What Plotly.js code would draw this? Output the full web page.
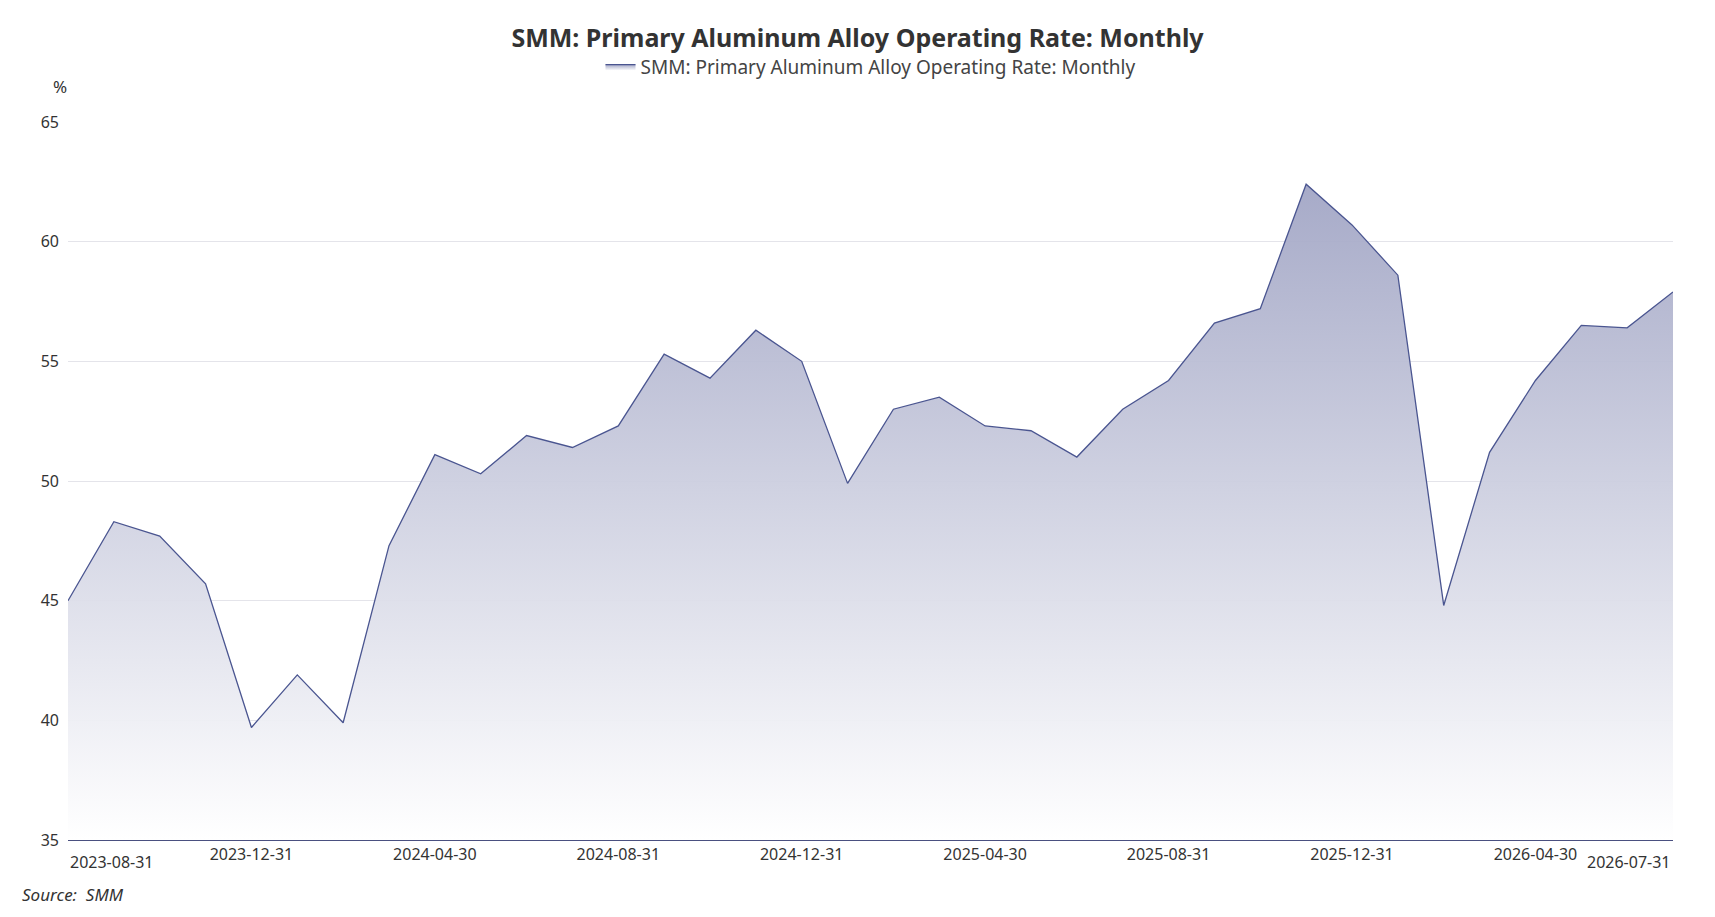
<!DOCTYPE html>
<html>
<head>
<meta charset="utf-8">
<script src="https://cdn.plot.ly/plotly-3.0.1.min.js"></script>
<style>html,body{margin:0;background:#fff;}#chart{width:1715px;height:917px;}</style>
</head>
<body>
<div id="chart"></div>
<script>
const seriesName = 'SMM: Primary Aluminum Alloy Operating Rate: Monthly';
const months = [
  '2023-08-31', '2023-09-30', '2023-10-31', '2023-11-30', '2023-12-31',
  '2024-01-31', '2024-02-29', '2024-03-31', '2024-04-30', '2024-05-31', '2024-06-30',
  '2024-07-31', '2024-08-31', '2024-09-30', '2024-10-31', '2024-11-30', '2024-12-31',
  '2025-01-31', '2025-02-28', '2025-03-31', '2025-04-30', '2025-05-31', '2025-06-30',
  '2025-07-31', '2025-08-31', '2025-09-30', '2025-10-31', '2025-11-30', '2025-12-31',
  '2026-01-31', '2026-02-28', '2026-03-31', '2026-04-30', '2026-05-31', '2026-06-30',
  '2026-07-31',
];
const rates = [
  45.0, 48.3, 47.7, 45.7, 39.7,
  41.9, 39.9, 47.3, 51.1, 50.3, 51.9,
  51.4, 52.3, 55.3, 54.3, 56.3, 55.0,
  49.9, 53.0, 53.5, 52.3, 52.1, 51.0,
  53.0, 54.2, 56.6, 57.2, 62.4, 60.7,
  58.6, 44.8, 51.2, 54.2, 56.5, 56.4,
  57.9,
];
// inner ticks go on the axis; the two end labels are anchored inward
const tickLabels = [
  '2023-12-31', '2024-04-30', '2024-08-31', '2024-12-31',
  '2025-04-30', '2025-08-31', '2025-12-31', '2026-04-30',
];
const firstTick = months[0];
const lastTick = months[months.length - 1];

const font = 'Noto Sans, Open Sans, sans-serif';
const trace = {
  x: months,
  y: rates,
  name: seriesName,
  type: 'scatter',
  mode: 'lines',
  line: { color: '#4a5590', width: 1.3 },
  fill: 'tozeroy',
  fillgradient: {
    type: 'vertical',
    start: 35,
    stop: 63,
    colorscale: [[0, 'rgba(255,255,255,0.95)'], [1, 'rgba(160,164,196,0.95)']],
  },
  hoverinfo: 'x+y',
};

const tickFont = { family: font, size: 16, color: '#333' };
const layout = {
  width: 1715,
  height: 917,
  paper_bgcolor: '#fff',
  plot_bgcolor: '#fff',
  margin: { l: 68, r: 42, t: 122, b: 77 },
  title: {
    text: '<b>' + seriesName + '</b>',
    x: 0.5, y: 0.968, yanchor: 'top',
    font: { family: font, size: 25, color: '#333' },
  },
  showlegend: true,
  legend: {
    orientation: 'h', x: 0.5, xanchor: 'center', y: 1.077, yanchor: 'middle',
    font: { family: font, size: 19, color: '#444' },
  },
  xaxis: {
    type: 'category',
    tickvals: tickLabels,
    ticktext: tickLabels,
    showgrid: false,
    showline: true,
    linecolor: '#4a5080',
    ticks: '',
    range: [0, months.length - 1],
    tickfont: tickFont,
  },
  yaxis: {
    range: [35, 65],
    dtick: 5,
    gridcolor: '#e4e4ea',
    zeroline: false,
    tickfont: tickFont,
    ticklabelstandoff: 8,
  },
  annotations: [
    {
      text: firstTick, xref: 'paper', yref: 'paper', x: 0, y: -0.012,
      xanchor: 'left', yanchor: 'top', showarrow: false, font: tickFont,
    },
    {
      text: lastTick, xref: 'paper', yref: 'paper', x: 1, y: -0.012,
      xanchor: 'right', yanchor: 'top', showarrow: false, font: tickFont,
    },
    {
      text: '%', xref: 'paper', yref: 'paper', x: -0.005, y: 1.03,
      xanchor: 'center', yanchor: 'bottom', showarrow: false,
      font: { family: font, size: 17, color: '#333' },
    },
    {
      text: '<i>Source:  SMM</i>', xref: 'paper', yref: 'paper', x: -0.03, y: -0.076,
      xanchor: 'left', yanchor: 'middle', showarrow: false,
      font: { family: font, size: 17, color: '#333' },
    },
  ],
};

Plotly.newPlot('chart', [trace], layout, { displayModeBar: false });
</script>
</body>
</html>
